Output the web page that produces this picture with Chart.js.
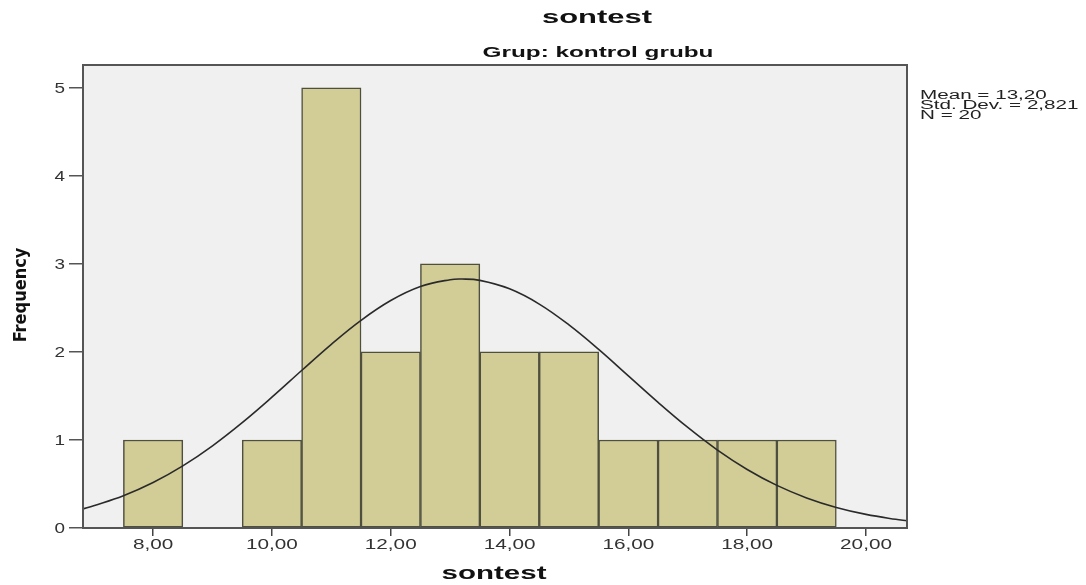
<!DOCTYPE html>
<html>
<head>
<meta charset="utf-8">
<script src="https://cdn.jsdelivr.net/npm/chart.js@4/dist/chart.umd.min.js"></script>
<style>
  html, body { margin: 0; padding: 0; background: #fff; }
  #wrap { width: 1086px; height: 585px; position: relative; }
</style>
</head>
<body>
<div id="wrap"><canvas id="hist"></canvas></div>
<script>
// Histogram bins (bin centre, frequency) — bin 9 is empty
const BIN_CENTERS = [8, 10, 11, 12, 13, 14, 15, 16, 17, 18, 19];
const BIN_COUNTS  = [1, 1, 5, 2, 3, 2, 2, 1, 1, 1, 1];

// Normal curve
const CURVE_X = [6.82, 7.0, 7.5, 8.0, 8.5, 9.0, 9.5, 10.0, 10.5, 11.0, 11.5, 12.0, 12.5, 13.0, 13.2,
                 13.5, 14.0, 14.5, 15.0, 15.5, 16.0, 16.5, 17.0, 17.5, 18.0, 18.5, 19.0, 19.5, 20.0, 20.5, 20.69];
const CURVE_Y = [0.216, 0.253, 0.367, 0.517, 0.706, 0.934, 1.197, 1.486, 1.789, 2.087, 2.359, 2.584, 2.743, 2.821, 2.828,
                 2.813, 2.717, 2.544, 2.307, 2.029, 1.728, 1.427, 1.142, 0.885, 0.665, 0.484, 0.342, 0.234, 0.155, 0.099, 0.083];

const X_TICKS = [8, 10, 12, 14, 16, 18, 20];
const Y_TICKS = [0, 1, 2, 3, 4, 5];

const STATS = ['Mean = 13,20', 'Std. Dev. = 2,821', 'N = 20'];

const FONT = "'Liberation Sans', Arial, sans-serif";

const fmtComma = v => v.toFixed(2).replace('.', ',');

// SPSS output text is horizontally stretched, so draw it scaled
function drawWide(ctx, text, x, y, font, sx, align) {
  ctx.save();
  ctx.translate(x, y);
  ctx.scale(sx, 1);
  ctx.font = font;
  ctx.textAlign = align || 'center';
  ctx.textBaseline = 'middle';
  ctx.fillText(text, 0, 0);
  ctx.restore();
}

// background, frame, tick labels and free texts
const spssDecor = {
  id: 'spssDecor',
  beforeDraw(chart) {
    const { ctx, chartArea: a } = chart;
    ctx.save();
    ctx.fillStyle = '#f0f0f0';
    ctx.fillRect(a.left, a.top, a.right - a.left, a.bottom - a.top);
    ctx.restore();
  },
  afterDraw(chart) {
    const { ctx, chartArea: a, scales } = chart;
    ctx.save();
    ctx.strokeStyle = '#555';
    ctx.lineWidth = 2;
    ctx.strokeRect(a.left, a.top, a.right - a.left, a.bottom - a.top);

    // tick labels
    ctx.fillStyle = '#333';
    X_TICKS.forEach(v => drawWide(ctx, fmtComma(v), scales.x.getPixelForValue(v), 545, '14px ' + FONT, 1.48));
    Y_TICKS.forEach(v => drawWide(ctx, String(v), 65, scales.y.getPixelForValue(v) + 1, '14px ' + FONT, 1.35, 'right'));

    // titles
    ctx.fillStyle = '#111';
    drawWide(ctx, 'sontest', 597, 18, 'bold 18px ' + FONT, 1.72);
    drawWide(ctx, 'Grup: kontrol grubu', 598, 53, 'bold 15px ' + FONT, 1.62);
    drawWide(ctx, 'sontest', 494, 574, 'bold 18px ' + FONT, 1.64);

    ctx.save();
    ctx.translate(21, 295);
    ctx.rotate(-Math.PI / 2);
    ctx.font = "bold 18px 'Liberation Sans Narrow', 'DejaVu Sans Condensed', sans-serif";
    ctx.textAlign = 'center';
    ctx.textBaseline = 'middle';
    ctx.fillText('Frequency', 0, 0);
    ctx.restore();

    // summary statistics
    ctx.fillStyle = '#222';
    STATS.forEach((s, i) => drawWide(ctx, s, 920, 96 + i * 10, '12px ' + FONT, 1.72, 'left'));
    ctx.restore();
  }
};

new Chart(document.getElementById('hist'), {
  data: {
    datasets: [
      {
        type: 'line',
        data: CURVE_X.map((x, i) => ({ x, y: CURVE_Y[i] })),
        borderColor: '#2a2a2a',
        borderWidth: 1.6,
        pointRadius: 0,
        tension: 0.4,
        order: 0,
      },
      {
        type: 'bar',
        data: BIN_CENTERS.map((x, i) => ({ x, y: BIN_COUNTS[i] })),
        backgroundColor: '#d2cd96',
        borderColor: '#4f4f3f',
        borderWidth: 1.5,
        borderSkipped: false,
        barPercentage: 1,
        categoryPercentage: 1,
        order: 1,
      }
    ]
  },
  options: {
    responsive: true,
    maintainAspectRatio: false,
    animation: false,
    layout: { padding: { left: 0, top: 65, right: 179, bottom: 0 } },
    plugins: { legend: { display: false }, tooltip: { enabled: false } },
    scales: {
      x: {
        type: 'linear',
        min: 6.82, max: 20.69,
        offset: false,
        afterBuildTicks: s => { s.ticks = X_TICKS.map(v => ({ value: v })); },
        afterFit: s => { s.height = 57; },
        grid: { offset: false, drawOnChartArea: false, tickLength: 8, color: '#444', lineWidth: 1.5 },
        border: { display: false },
        ticks: { display: false }
      },
      y: {
        min: 0, max: 5.26,
        afterBuildTicks: s => { s.ticks = Y_TICKS.map(v => ({ value: v })); },
        afterFit: s => { s.width = 83; },
        grid: { drawOnChartArea: false, tickLength: 14, color: '#555', lineWidth: 1.5 },
        border: { display: false },
        ticks: { display: false }
      }
    }
  },
  plugins: [spssDecor]
});
</script>
</body>
</html>
